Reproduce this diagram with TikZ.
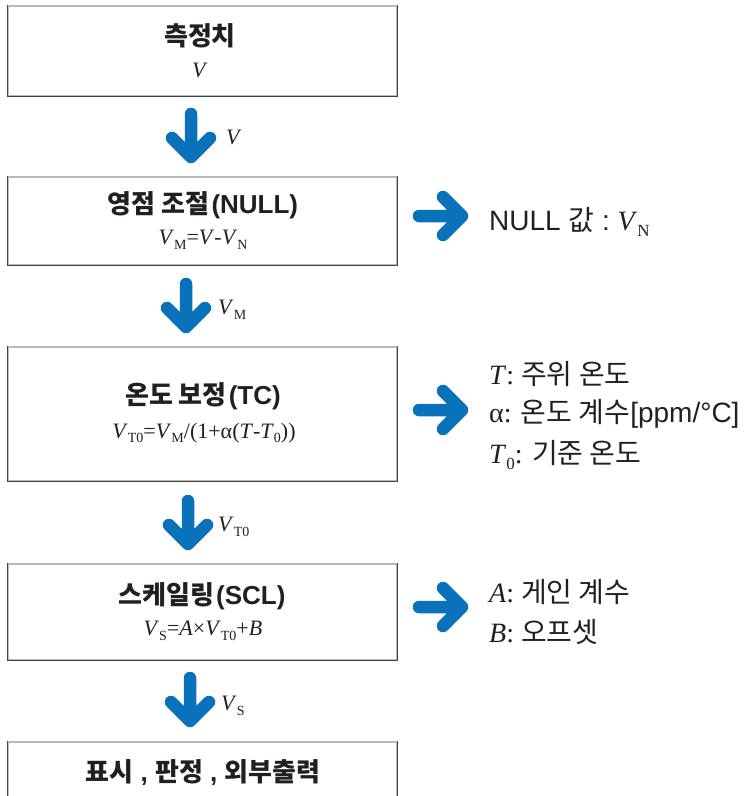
\documentclass[tikz,border=0pt]{standalone}
\usepackage{fontspec}
\setmainfont{Liberation Serif}
\newfontfamily\kr{Noto Sans CJK KR}
\newfontfamily\ar{Liberation Sans}
\definecolor{ink}{HTML}{231F20}
\definecolor{arrblue}{HTML}{0A72BA}
\newcommand\sub[1]{\raisebox{-0.22em}{\fontsize{14}{14}\selectfont #1}}
\newcommand\subb[1]{\raisebox{-0.22em}{\fontsize{17}{17}\selectfont #1}}
\newcommand\iv{\textit{V}}
\begin{document}
\begin{tikzpicture}[x=1pt,y=-1pt,
  box/.style={draw=gray!55,line width=1.3pt,minimum width=389pt,inner sep=0pt,fill=white},
  title/.style={text=ink,font=\fontsize{26}{28}\selectfont,inner sep=0pt},
  formula/.style={text=ink,font=\fontsize{22}{24}\selectfont,inner sep=0pt},
  side/.style={text=ink,font=\fontsize{28}{30}\selectfont,inner sep=0pt,anchor=west},
  albl/.style={text=ink,font=\fontsize{22}{24}\selectfont,inner sep=0pt,anchor=west},
  arrowline/.style={draw=arrblue,line width=12.5pt,line cap=round,line join=round},
  darr/.pic={\draw[arrowline] (0,0) -- (0,43) (-19,24) -- (0,43) -- (19,24);},
  rarr/.pic={\draw[arrowline] (0,0) -- (43,0) (24,-19) -- (43,0) -- (24,19);},
  dark/.style={draw=ink!85,line width=1.6pt}
]
\useasboundingbox (0,0) rectangle (753,796);

% boxes
\node[box,minimum height=90pt] (b1) at (202.5,51) {};
\node[box,minimum height=88pt] (b2) at (202.5,221) {};
\node[box,minimum height=134pt] (b3) at (202.5,414) {};
\node[box,minimum height=96pt] (b4) at (202.5,612) {};
\node[box,minimum height=80pt] (b5) at (202.5,782) {};
\foreach \b in {b1,b2,b3,b4,b5}{
  \draw[dark] (\b.north west) -- (\b.south west) -- (\b.south east) -- (\b.north east);
}

% box texts
\node[title] (t1) at (200,36) {\kr\bfseries 측정치};
\node[formula] (f1) at (200,70) {\iv};
\node[title] (t2) at (203,205) {{\kr\bfseries 영점 조절}\kern2pt{\ar\bfseries (NULL)}};
\node[formula] (f2) at (203,240) {\iv\sub{M}=\iv-\iv\sub{N}};
\node[title] (t3) at (203,396) {{\kr\bfseries 온도 보정}\kern2pt{\ar\bfseries (TC)}};
\node[formula] (f3) at (204,433) {\iv\sub{T0}=\iv\sub{M}/(1+α(\textit{T}-\textit{T}\sub{0}))};
\node[title] (t4) at (202,596) {{\kr\bfseries 스케일링}\kern2pt{\ar\bfseries (SCL)}};
\node[formula] (f4) at (203,631) {\iv\sub{S}=\textit{A}×\iv\sub{T0}+\textit{B}};
\node[title] (t5) at (203,773) {{\kr\bfseries 표시}{\ar\bfseries\ ,\ }{\kr\bfseries 판정}{\ar\bfseries\ ,\ }{\kr\bfseries 외부출력}};

% down arrows
\pic at (191,114) {darr};
\pic at (186,284) {darr};
\pic at (188,501) {darr};
\pic at (190,678) {darr};
\node[albl] (l1) at (226,137) {\iv};
\node[albl] (l2) at (218,310) {\iv\sub{M}};
\node[albl] (l3) at (218,527) {\iv\sub{T0}};
\node[albl] (l4) at (221,706) {\iv\sub{S}};

% right arrows
\pic at (419,216) {rarr};
\pic at (419,410) {rarr};
\pic at (419,607) {rarr};

% side texts
\node[side] (s1) at (489,222) {{\ar NULL }{\kr 값}{\ar\ :\ }\iv\subb{N}};
\node[side] (s2) at (489,374) {\textit{T}: {\kr 주위 온도}};
\node[side] (s3) at (489,414) {α: {\kr 온도 계수}{\ar [ppm/°C]}};
\node[side] (s4) at (489,455) {\textit{T}\subb{0}: {\kr 기준 온도}};
\node[side] (s5) at (489,592) {\textit{A}: {\kr 게인 계수}};
\node[side] (s6) at (489,632) {\textit{B}: {\kr 오프셋}};
\end{tikzpicture}
\end{document}
